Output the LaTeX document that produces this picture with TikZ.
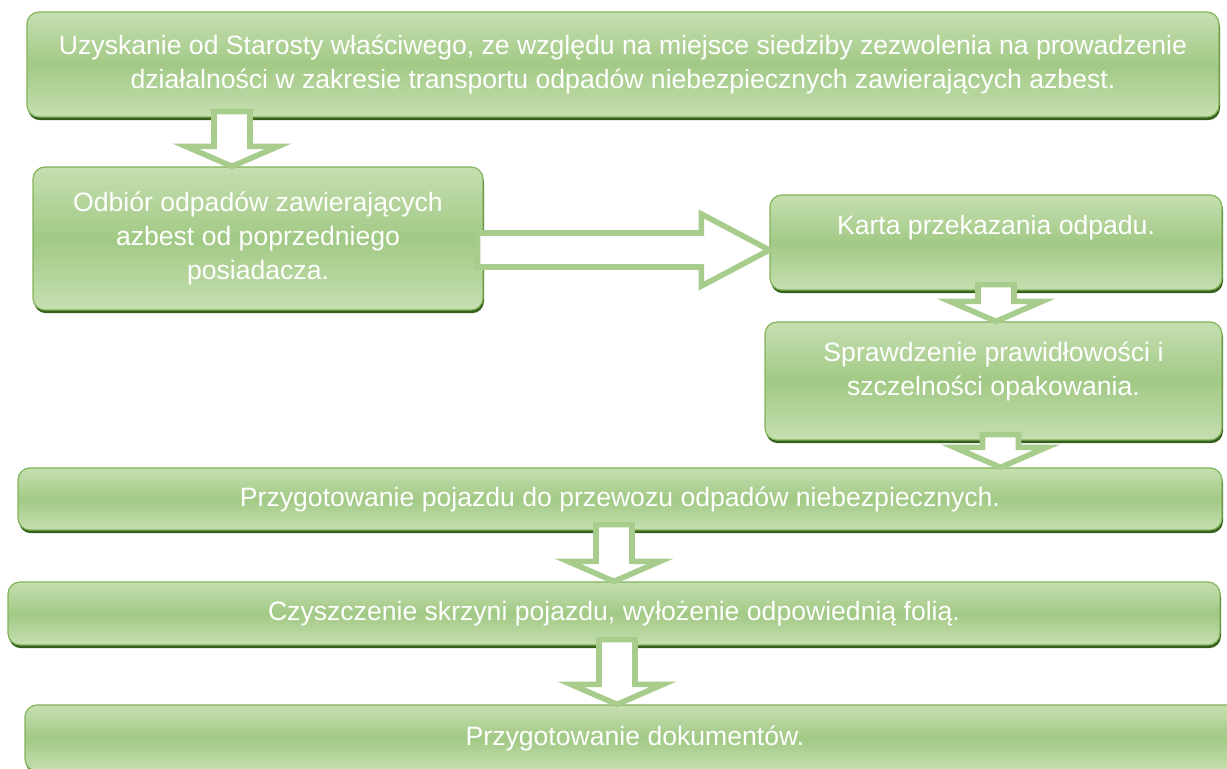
\documentclass[tikz,border=0pt]{standalone}
\usepackage{fontspec}
\setsansfont{Liberation Sans}
\usetikzlibrary{calc,shadows}

\definecolor{boxlight}{HTML}{C6DFB1}
\definecolor{boxmid}{HTML}{A2C985}
\definecolor{boxedge}{HTML}{82B35A}
\definecolor{boxshadow}{HTML}{355F1C}
\definecolor{arrowedge}{HTML}{A8CC8B}

\tikzset{
  stepbox/.style={draw=boxedge, line width=0.6pt, rounded corners=6pt,
    top color=boxlight, bottom color=boxlight, middle color=boxmid,
    drop shadow={shadow xshift=0.5pt, shadow yshift=-1.6pt, fill=boxshadow, opacity=1},
    text=white, align=center, inner sep=2pt,
    font=\sffamily\fontsize{13.3}{17}\selectfont},
  hollow/.style={draw=arrowedge, line width=2.8pt, fill=white},
  downarrow/.style={hollow, to path={
    ($(\tikztostart)+(-9pt,3pt)$) -- ($(\tikztotarget)+(-9pt,10pt)$)
    -- ($(\tikztotarget)+(-23pt,10pt)$) -- (\tikztotarget)
    -- ($(\tikztotarget)+(23pt,10pt)$) -- ($(\tikztotarget)+(9pt,10pt)$)
    -- ($(\tikztostart)+(9pt,3pt)$) -- cycle}},
  rightarrow/.style={hollow, to path={
    ($(\tikztostart)+(-3pt,8.5pt)$) -- ($(\tikztotarget)+(-34pt,8.5pt)$)
    -- ($(\tikztotarget)+(-34pt,18pt)$) -- (\tikztotarget)
    -- ($(\tikztotarget)+(-34pt,-18pt)$) -- ($(\tikztotarget)+(-34pt,-8.5pt)$)
    -- ($(\tikztostart)+(-3pt,-8.5pt)$) -- cycle}}
}

\begin{document}
\begin{tikzpicture}[x=0.5pt, y=-0.5pt]
\useasboundingbox (0,0) rectangle (1227,769);

% steps
\node[stepbox, minimum width=596pt, minimum height=52.5pt] (zezwolenie) at (623,64.5)
  {Uzyskanie od Starosty właściwego, ze względu na miejsce siedziby zezwolenia na prowadzenie\\
   działalności w zakresie transportu odpadów niebezpiecznych zawierających azbest.};
\node[stepbox, minimum width=225pt, minimum height=71.5pt] (odbior) at (258,238.5)
  {Odbiór odpadów zawierających\\ azbest od poprzedniego\\ posiadacza.};
\node[stepbox, minimum width=226pt, minimum height=47.5pt, text depth=18pt] (karta) at (996,242.5)
  {Karta przekazania odpadu.};
\node[stepbox, minimum width=228.5pt, minimum height=59pt, text depth=12pt] (sprawdzenie) at (993.5,381)
  {Sprawdzenie prawidłowości i\\ szczelności opakowania.};
\node[stepbox, minimum width=602pt, minimum height=31pt] (pojazd) at (620,499)
  {Przygotowanie pojazdu do przewozu odpadów niebezpiecznych.};
\node[stepbox, minimum width=606pt, minimum height=31.5pt] (skrzynia) at (614,613.5)
  {Czyszczenie skrzyni pojazdu, wyłożenie odpowiednią folią.};
\node[stepbox, minimum width=610pt, minimum height=33pt] (dokumenty) at (635,738)
  {Przygotowanie dokumentów.};

% arrows
\coordinate (tip1) at ([xshift=-13pt]odbior.north);
\coordinate (tip3) at ([xshift=3.5pt]sprawdzenie.south);
\draw[downarrow] (zezwolenie.south -| tip1) to (tip1);
\draw[rightarrow] ([yshift=-5.75pt]odbior.east) to ([yshift=-5.75pt]odbior.east -| karta.west);
\draw[downarrow] (karta.south) to (karta.south |- sprawdzenie.north);
\draw[downarrow] (tip3) to (tip3 |- pojazd.north);
\draw[downarrow] (pojazd.south -| skrzynia.north) to (skrzynia.north);
\draw[downarrow] ([xshift=1.5pt]skrzynia.south) to ([xshift=1.5pt]skrzynia.south |- dokumenty.north);
\end{tikzpicture}
\end{document}
